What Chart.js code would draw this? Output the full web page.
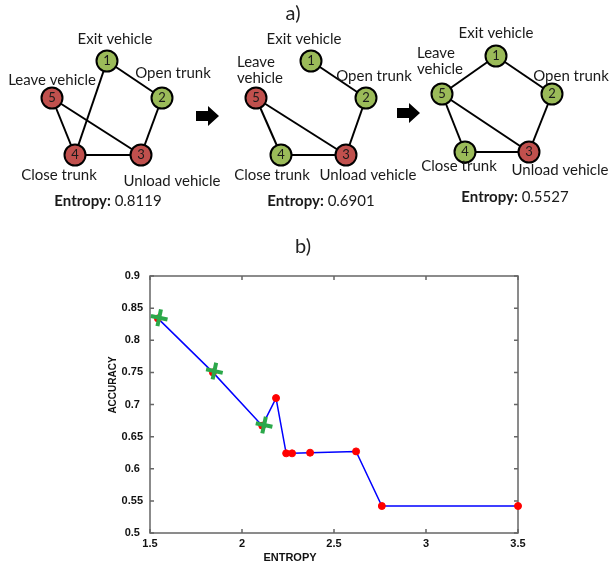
<!DOCTYPE html>
<html lang="en">
<head>
<meta charset="UTF-8">
<title>Entropy vs accuracy</title>
<script src="https://cdn.jsdelivr.net/npm/chart.js"></script>
<style>
  html, body { margin: 0; padding: 0; background: #fff; }
  #wrap { position: relative; width: 609px; height: 570px; }
  #graphs { position: absolute; left: 0; top: 0; }
  #accuracy { position: absolute; left: 0; top: 215px; }
</style>
</head>
<body>
<div id="wrap">
  <canvas id="graphs" width="609" height="215"></canvas>
  <canvas id="accuracy" width="609" height="355"></canvas>
</div>

<script>
// ---- a) activity graphs ----
const activities = ["Exit vehicle", "Open trunk", "Unload vehicle", "Close trunk", "Leave vehicle"];
const graphEntropy = ["0.8119", "0.6901", "0.5527"];
// node layout of each graph (same pixel space as the top canvas)
const nodeX = [[107, 162, 141, 75, 52], [311, 366, 346, 281, 256], [496, 552, 529, 465, 442]];
const nodeY = [[61, 98, 155, 155, 98], [61, 98, 155, 155, 98], [56, 94, 152, 152, 94]];
const nodeState = [["g", "g", "r", "r", "r"], ["g", "g", "r", "g", "r"], ["g", "g", "r", "g", "g"]];
const edges = [
    [[1, 2], [1, 4], [2, 3], [3, 4], [4, 5], [5, 3]],
    [[1, 2], [2, 3], [3, 4], [4, 5], [5, 3]],
    [[1, 2], [1, 5], [2, 3], [3, 4], [4, 5], [5, 3]]
];

// ---- b) accuracy vs entropy ----
const entropy = [1.543, 1.842, 2.11, 2.185, 2.24, 2.272, 2.37, 2.62, 2.76, 3.5];
const accuracy = [0.834, 0.75, 0.667, 0.71, 0.624, 0.624, 0.625, 0.627, 0.542, 0.542];
const bestEntropy = [1.55, 1.85, 2.12];
const bestAccuracy = [0.835, 0.752, 0.668];
const xTicks = [1.5, 2, 2.5, 3, 3.5];
const yTicks = [0.5, 0.55, 0.6, 0.65, 0.7, 0.75, 0.8, 0.85, 0.9];

const labelFont = "Lato, 'Open Sans', sans-serif";
const green = "#9bbb59", red = "#c0504d";

// label placement (x, y, align) per graph, in activity order
const labelPos = [
    [[115, 39, "center"], [173, 73, "center"], [172, 181, "center"], [59, 175, "center"], [52, 80, "center"]],
    [[304, 39, "center"], [374, 76, "center"], [368, 175, "center"], [272, 175, "center"], [237, 62, "left"]],
    [[496, 33, "center"], [571, 76, "center"], [560, 170, "center"], [459, 166, "center"], [417, 53, "left"]]
];
const entropyPos = [[108, 201], [321, 201], [515, 197]];
const arrowPos = [[207, 116], [408, 113]];

const graphDatasets = [];
edges.forEach((list, g) => {
    list.forEach(([a, b]) => {
        graphDatasets.push({
            type: "scatter",
            data: [{x: nodeX[g][a - 1], y: nodeY[g][a - 1]}, {x: nodeX[g][b - 1], y: nodeY[g][b - 1]}],
            showLine: true,
            borderColor: "#000",
            borderWidth: 2,
            pointRadius: 0,
            order: 2
        });
    });
});
nodeX.forEach((xs, g) => {
    graphDatasets.push({
        type: "scatter",
        data: xs.map((x, i) => ({x: x, y: nodeY[g][i]})),
        pointRadius: 10.5,
        pointBackgroundColor: nodeState[g].map(s => s === "g" ? green : red),
        pointBorderColor: "#000",
        pointBorderWidth: 2,
        order: 1,
        isNodes: true
    });
});

const graphText = {
    id: "graphText",
    afterDatasetsDraw(chart) {
        const ctx = chart.ctx;
        const sx = chart.scales.x, sy = chart.scales.y;
        ctx.save();
        ctx.fillStyle = "#1a1a1a";
        ctx.textBaseline = "middle";
        // node numbers
        ctx.font = "13px " + labelFont;
        ctx.textAlign = "center";
        chart.data.datasets.forEach((ds, di) => {
            if (!ds.isNodes) return;
            chart.getDatasetMeta(di).data.forEach((pt, i) => {
                ctx.fillText(String(i + 1), pt.x, pt.y);
            });
        });
        // activity labels
        ctx.font = "15px " + labelFont;
        labelPos.forEach((pos, g) => {
            pos.forEach(([x, y, align], i) => {
                ctx.textAlign = align;
                const px = sx.getPixelForValue(x), py = sy.getPixelForValue(y);
                if (align === "left") {
                    const words = activities[i].split(" ");
                    ctx.fillText(words[0], px, py);
                    ctx.fillText(words[1], px, py + 16);
                } else {
                    ctx.fillText(activities[i], px, py);
                }
            });
        });
        // entropy captions
        entropyPos.forEach(([x, y], g) => {
            const px = sx.getPixelForValue(x), py = sy.getPixelForValue(y);
            ctx.font = "bold 15px " + labelFont;
            const w1 = ctx.measureText("Entropy:").width;
            ctx.font = "15px " + labelFont;
            const w2 = ctx.measureText(" " + graphEntropy[g]).width;
            let left = px - (w1 + w2) / 2;
            ctx.textAlign = "left";
            ctx.font = "bold 15px " + labelFont;
            ctx.fillText("Entropy:", left, py);
            ctx.font = "15px " + labelFont;
            ctx.fillText(" " + graphEntropy[g], left + w1, py);
        });
        // arrows
        ctx.fillStyle = "#000";
        arrowPos.forEach(([x, y]) => {
            const px = sx.getPixelForValue(x), py = sy.getPixelForValue(y);
            ctx.beginPath();
            ctx.moveTo(px - 11, py - 5);
            ctx.lineTo(px + 1, py - 5);
            ctx.lineTo(px + 1, py - 10);
            ctx.lineTo(px + 12, py);
            ctx.lineTo(px + 1, py + 10);
            ctx.lineTo(px + 1, py + 5);
            ctx.lineTo(px - 11, py + 5);
            ctx.closePath();
            ctx.fill();
        });
        // panel label
        ctx.font = "20px " + labelFont;
        ctx.textAlign = "center";
        ctx.fillStyle = "#222";
        ctx.fillText("a)", sx.getPixelForValue(293), sy.getPixelForValue(14));
        ctx.restore();
    }
};

new Chart(document.getElementById("graphs"), {
    type: "scatter",
    data: { datasets: graphDatasets },
    options: {
        responsive: false,
        animation: false,
        layout: { padding: 0, autoPadding: false },
        plugins: { legend: { display: false }, tooltip: { enabled: false } },
        scales: {
            x: { type: "linear", min: 0, max: 609, display: false },
            y: { type: "linear", min: 0, max: 215, reverse: true, display: false }
        }
    },
    plugins: [graphText]
});

// ---- b) chart ----
const boxAndTitles = {
    id: "boxAndTitles",
    beforeDatasetsDraw(chart) {
        const ctx = chart.ctx;
        const a = chart.chartArea;
        const sx = chart.scales.x, sy = chart.scales.y;
        ctx.save();
        ctx.strokeStyle = "#666";
        ctx.lineWidth = 1.5;
        ctx.strokeRect(a.left, a.top, a.right - a.left, a.bottom - a.top);
        ctx.beginPath();
        xTicks.forEach(v => {
            const px = sx.getPixelForValue(v);
            ctx.moveTo(px, a.bottom); ctx.lineTo(px, a.bottom - 4);
            ctx.moveTo(px, a.top); ctx.lineTo(px, a.top + 4);
        });
        yTicks.forEach(v => {
            const py = sy.getPixelForValue(v);
            ctx.moveTo(a.left, py); ctx.lineTo(a.left + 4, py);
            ctx.moveTo(a.right, py); ctx.lineTo(a.right - 4, py);
        });
        ctx.stroke();

        ctx.fillStyle = "#111";
        ctx.textAlign = "center";
        ctx.textBaseline = "middle";
        ctx.font = "bold 11px 'Liberation Sans', Arial, sans-serif";
        ctx.fillText("ENTROPY", a.left + 140, a.bottom + 25);
        ctx.save();
        ctx.translate(a.left - 37, a.top + 109);
        ctx.rotate(-Math.PI / 2);
        ctx.font = "bold 10px 'Liberation Sans', Arial, sans-serif";
        ctx.fillText("ACCURACY", 0, 0);
        ctx.restore();

        ctx.font = "20px " + labelFont;
        ctx.fillStyle = "#222";
        ctx.fillText("b)", 303, a.top - 29);
        ctx.restore();
    }
};

const tickFont = { family: "'Liberation Sans', Arial, sans-serif", size: 11, weight: "bold" };
const fmt = v => String(+Number(v).toFixed(2));

new Chart(document.getElementById("accuracy"), {
    type: "scatter",
    data: {
        datasets: [
            {
                data: bestEntropy.map((x, i) => ({x: x, y: bestAccuracy[i]})),
                pointStyle: "cross",
                pointRadius: 8.5,
                pointRotation: 12,
                pointBorderWidth: 4,
                pointBorderColor: "#2ba84a",
                pointBackgroundColor: "#2ba84a",
                showLine: false,
                clip: false
            },
            {
                data: entropy.map((x, i) => ({x: x, y: accuracy[i]})),
                showLine: true,
                borderColor: "#0000ff",
                borderWidth: 1.5,
                tension: 0,
                pointRadius: 3.5,
                pointBackgroundColor: "#ff0000",
                pointBorderColor: "#ff0000",
                pointBorderWidth: 1,
                clip: false
            }
        ]
    },
    options: {
        responsive: false,
        animation: false,
        layout: { padding: { left: 0, right: 91, top: 61, bottom: 0 }, autoPadding: false },
        plugins: { legend: { display: false }, tooltip: { enabled: false } },
        scales: {
            x: {
                type: "linear", min: 1.5, max: 3.5,
                afterBuildTicks: s => { s.ticks = xTicks.map(v => ({value: v})); },
                afterFit: s => { s.height = 37; },
                grid: { display: false, drawTicks: false },
                border: { display: false },
                ticks: { font: tickFont, color: "#111", padding: 4, maxRotation: 0, callback: fmt }
            },
            y: {
                type: "linear", min: 0.5, max: 0.9,
                afterBuildTicks: s => { s.ticks = yTicks.map(v => ({value: v})); },
                afterFit: s => { s.width = 150; },
                grid: { display: false, drawTicks: false },
                border: { display: false },
                ticks: { font: tickFont, color: "#111", padding: 7, crossAlign: "center", callback: fmt }
            }
        }
    },
    plugins: [boxAndTitles]
});
</script>
</body>
</html>
